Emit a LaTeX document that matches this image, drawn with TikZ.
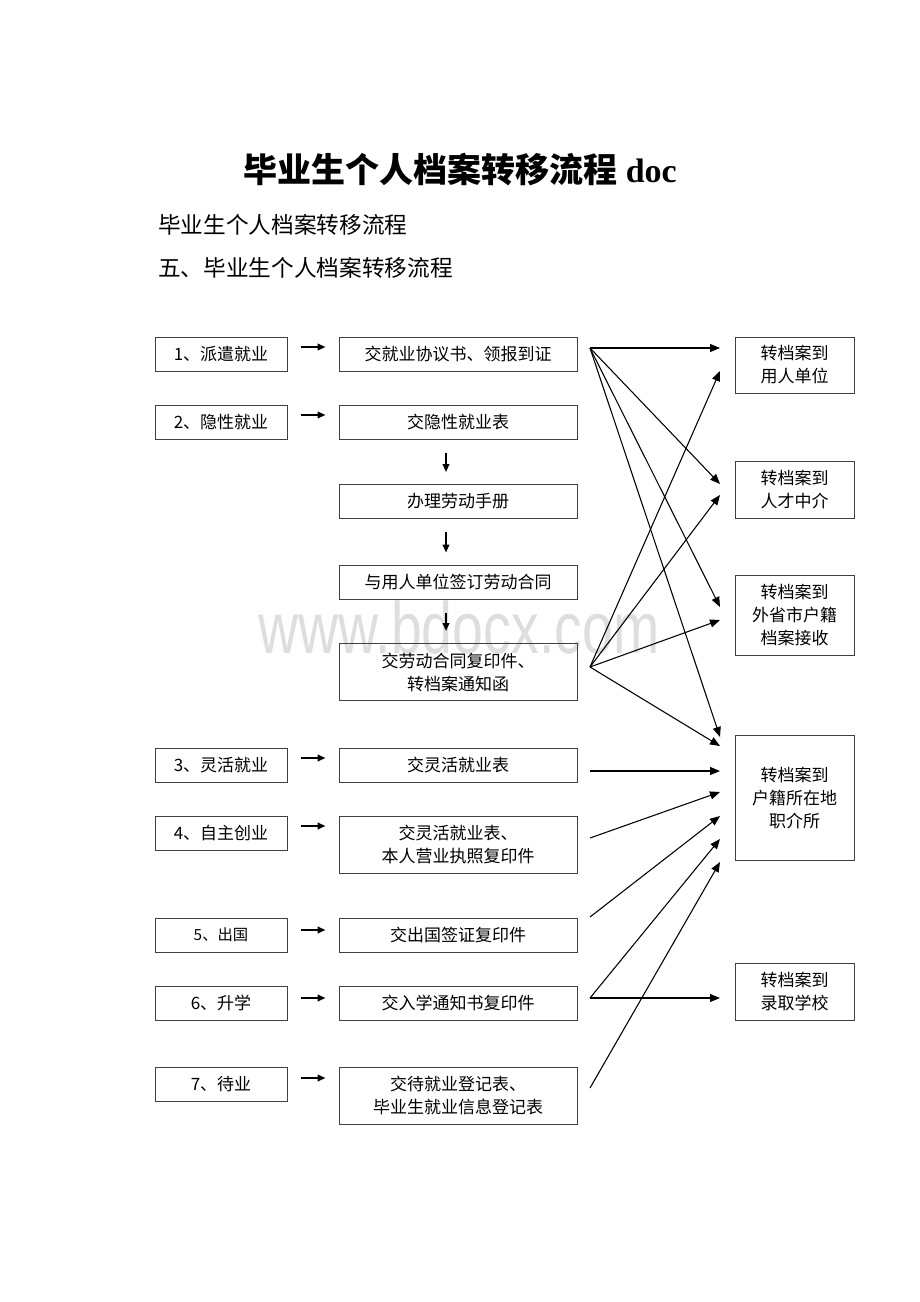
\documentclass[tikz,border=0pt]{standalone}
\usepackage{fontspec}
\setmainfont{Liberation Serif}
\newfontfamily\cjk{Noto Sans CJK SC}
\newfontfamily\wmfont{Liberation Sans}
\usetikzlibrary{arrows.meta}
\begin{document}
\begin{tikzpicture}[x=0.75pt,y=-0.75pt,
 box/.style={draw=black!75,line width=0.75pt,inner sep=0pt,align=center,font=\cjk\fontsize{12.75pt}{17.25pt}\selectfont},
 lbox/.style={box,minimum width=99pt,minimum height=25.5pt},
 mbox/.style={box,minimum width=178.5pt,minimum height=25.5pt},
 rbox/.style={box,minimum width=89.25pt},
 arr/.style={line width=0.8pt,-{Triangle[length=7.5pt,width=6pt]}},
 sarr/.style={line width=1.3pt,-{Triangle[length=6pt,width=5pt]},shorten <=9.75pt,shorten >=9.75pt},
 varr/.style={line width=1.3pt,-{Triangle[length=6pt,width=5pt]},shorten <=9.75pt,shorten >=9pt},
]
\useasboundingbox (0,0) rectangle (920,1302);
\fill[white] (0,0) rectangle (920,1302);
% watermark
\node[text=black!13,font=\wmfont\fontsize{52pt}{52pt}\selectfont,inner sep=0pt,anchor=base,xscale=0.8,yscale=1.05] (wm) at (459,653) {www.bdocx.com};
% titles
\node[inner sep=0pt,font=\fontsize{25.5pt}{30pt}\selectfont\bfseries] (title) at (460,170) {{\cjk\bfseries 毕业生个人档案转移流程} doc};
\node[inner sep=0pt,anchor=west,font=\cjk\fontsize{17pt}{20pt}\selectfont] (sub1) at (158,225) {毕业生个人档案转移流程};
\node[inner sep=0pt,anchor=west,font=\cjk\fontsize{17pt}{20pt}\selectfont] (sub2) at (158,268) {五、毕业生个人档案转移流程};
% left boxes
\node[lbox] (L1) at (221,354) {1、派遣就业};
\node[lbox] (L2) at (221,422) {2、隐性就业};
\node[lbox] (L3) at (221,765) {3、灵活就业};
\node[lbox] (L4) at (221,833) {4、自主创业};
\node[lbox,font=\cjk\fontsize{11.5pt}{15pt}\selectfont] (L5) at (221,935) {5、出国};
\node[lbox] (L6) at (221,1003) {6、升学};
\node[lbox] (L7) at (221,1084) {7、待业};
% middle boxes
\node[mbox] (M1) at (458,354) {交就业协议书、领报到证};
\node[mbox] (M2) at (458,422) {交隐性就业表};
\node[mbox] (M3) at (458,501.5) {办理劳动手册};
\node[mbox] (M4) at (458,582) {与用人单位签订劳动合同};
\node[mbox,minimum height=42.75pt] (M5) at (458,672) {交劳动合同复印件、\\转档案通知函};
\node[mbox] (M6) at (458,765) {交灵活就业表};
\node[mbox,minimum height=42.75pt] (M7) at (458,844.5) {交灵活就业表、\\本人营业执照复印件};
\node[mbox] (M8) at (458,935) {交出国签证复印件};
\node[mbox] (M9) at (458,1003) {交入学通知书复印件};
\node[mbox,minimum height=42.75pt] (M10) at (458,1095.5) {交待就业登记表、\\毕业生就业信息登记表};
% right boxes
\node[rbox,minimum height=42pt] (R1) at (794.5,365) {转档案到\\用人单位};
\node[rbox,minimum height=42.75pt] (R2) at (794.5,489.5) {转档案到\\人才中介};
\node[rbox,minimum height=60pt] (R3) at (794.5,615) {转档案到\\外省市户籍\\档案接收};
\node[rbox,minimum height=93.75pt] (R4) at (794.5,797.5) {转档案到\\户籍所在地\\职介所};
\node[rbox,minimum height=42.75pt] (R5) at (794.5,991.5) {转档案到\\录取学校};
% short arrows left -> middle
\draw[sarr] ([yshift=5.25pt]L1.east) -- ([yshift=5.25pt]M1.west);
\draw[sarr] ([yshift=5.25pt]L2.east) -- ([yshift=5.25pt]M2.west);
\draw[sarr] ([yshift=5.25pt]L3.east) -- ([yshift=5.25pt]M6.west |- L3.east);
\draw[sarr] ([yshift=5.25pt]L4.east) -- ([yshift=5.25pt]M7.west |- L4.east);
\draw[sarr] ([yshift=3.75pt]L5.east) -- ([yshift=3.75pt]M8.west);
\draw[sarr] ([yshift=3.75pt]L6.east) -- ([yshift=3.75pt]M9.west);
\draw[sarr] ([yshift=4.5pt]L7.east) -- ([yshift=4.5pt]M10.west |- L7.east);
% vertical arrows
\draw[varr] ([xshift=-9pt]M2.south) -- ([xshift=-9pt]M3.north);
\draw[varr] ([xshift=-9pt]M3.south) -- ([xshift=-9pt]M4.north);
\draw[varr] ([xshift=-9pt]M4.south) -- ([xshift=-9pt]M5.north);
% start and end points of long arrows
\coordinate (s1) at (590,348);
\coordinate (s5) at (590,667);
\coordinate (s6) at (590,771);
\coordinate (s7) at (590,838);
\coordinate (s8) at (590,917);
\coordinate (s9) at (590,998);
\coordinate (s10) at (590,1088);
\coordinate (e1a) at (720,348);
\coordinate (e1b) at (720,371);
\coordinate (e2a) at (720,484);
\coordinate (e2b) at (720,495);
\coordinate (e3a) at (720,607);
\coordinate (e3b) at (720,620);
\coordinate (e4a) at (720,737);
\coordinate (e4b) at (720,746);
\coordinate (e4c) at (720,771);
\coordinate (e4d) at (720,792);
\coordinate (e4e) at (720,816);
\coordinate (e4f) at (720,839);
\coordinate (e4g) at (720,862);
\coordinate (e5) at (720,998);
\draw[arr] (s1) -- (e1a);
\draw[arr] (s1) -- (e2a);
\draw[arr] (s1) -- (e3a);
\draw[arr] (s1) -- (e4a);
\draw[arr] (s5) -- (e1b);
\draw[arr] (s5) -- (e2b);
\draw[arr] (s5) -- (e3b);
\draw[arr] (s5) -- (e4b);
\draw[arr] (s6) -- (e4c);
\draw[arr] (s7) -- (e4d);
\draw[arr] (s8) -- (e4e);
\draw[arr] (s9) -- (e4f);
\draw[arr] (s9) -- (e5);
\draw[arr] (s10) -- (e4g);
\end{tikzpicture}
\end{document}
